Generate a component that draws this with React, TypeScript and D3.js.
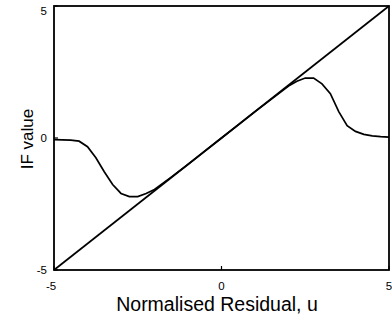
import React from "react";
import * as d3 from "d3";

const W = 392;
const H = 322;

const xTicks = [-5, 0, 5];
const yTicks = [-5, 0, 5];

// straight line IF (least squares)
const lineU = [-5, 5];
const lineIF = [-5, 5];

// redescending IF curve
const curveU = [-5, -4.75, -4.5, -4.25, -4.0, -3.75, -3.5, -3.25, -3.0, -2.75, -2.5, -2.25, -2.0, -1.5, -1.0, -0.5, 0, 0.5, 1.0, 1.5, 2.0, 2.25, 2.5, 2.75, 3.0, 3.25, 3.5, 3.75, 4.0, 4.25, 4.5, 4.75, 5];
const curveIF = [-0.06, -0.07, -0.08, -0.12, -0.33, -0.75, -1.28, -1.76, -2.1, -2.22, -2.22, -2.1, -1.95, -1.48, -1.0, -0.5, 0, 0.5, 1.0, 1.48, 1.97, 2.15, 2.27, 2.27, 2.05, 1.68, 1.0, 0.47, 0.25, 0.14, 0.08, 0.05, 0.03];

export default function App() {
  const left = 54, right = 389, top = 6, bottom = 270;
  const x = d3.scaleLinear().domain([-5, 5]).range([left, right]);
  const y = d3.scaleLinear().domain([-5, 5]).range([bottom, top]);

  const lineGen = d3.line<[number, number]>().x(d => x(d[0])).y(d => y(d[1]));
  const straight = lineGen(lineU.map((u, i) => [u, lineIF[i]] as [number, number])) || "";
  const curve = lineGen(curveU.map((u, i) => [u, curveIF[i]] as [number, number])) || "";

  const font = "'Liberation Sans', Arial, Helvetica, sans-serif";

  return (
    <svg width={W} height={H} style={{ position: "absolute", left: 0, top: 0, background: "#fff" }} fontFamily={font}>
      <rect x={0} y={0} width={W} height={H} fill="#fff" />
      <path d={straight} fill="none" stroke="#000" strokeWidth={1.7} />
      <path d={curve} fill="none" stroke="#000" strokeWidth={1.7} />
      <rect x={left} y={top} width={right - left} height={bottom - top} fill="none" stroke="#000" strokeWidth={1.8} />
      {xTicks.map(t => (
        <g key={"x" + t}>
          <line x1={x(t)} x2={x(t)} y1={bottom} y2={bottom - 4} stroke="#000" strokeWidth={1.2} />
          <text x={x(t) - (t < 0 ? 3 : 0)} y={290} fontSize={11.5} textAnchor="middle">{t}</text>
        </g>
      ))}
      {yTicks.map(t => (
        <g key={"y" + t}>
          <line x1={left} x2={left + 4} y1={y(t)} y2={y(t)} stroke="#000" strokeWidth={1.2} />
          <text x={47} y={Math.max(y(t), 10.5) + 4.2} fontSize={11.5} textAnchor="end">{t}</text>
        </g>
      ))}
      <text x={217} y={311} fontSize={19.5} textAnchor="middle">Normalised Residual, u</text>
      <text transform={`translate(33,139) rotate(-90)`} fontSize={17} textAnchor="middle">IF value</text>
    </svg>
  );
}
